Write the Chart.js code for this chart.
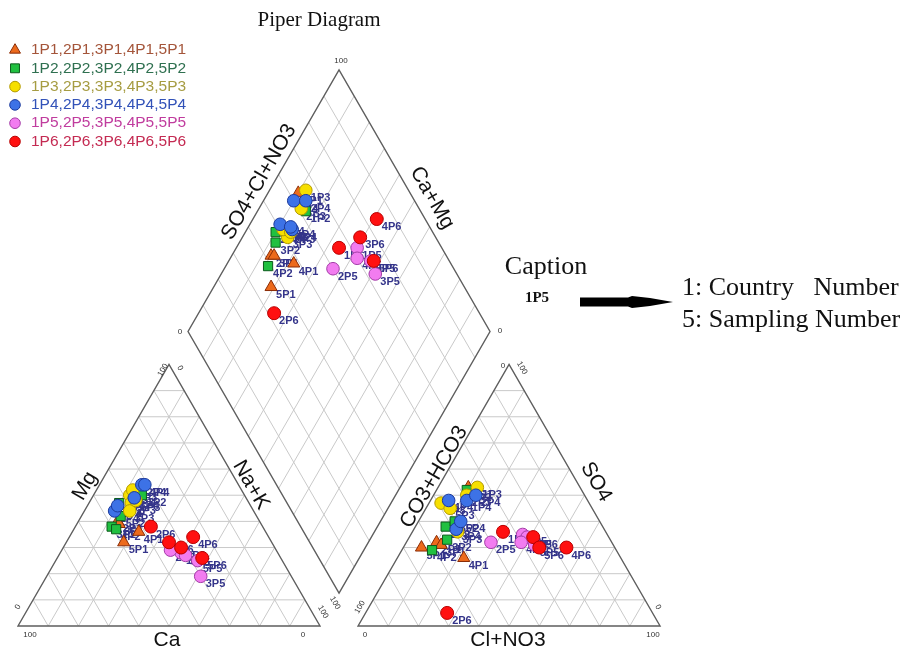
<!DOCTYPE html>
<html>
<head>
<meta charset="utf-8">
<title>Piper Diagram</title>
<script src="https://cdn.jsdelivr.net/npm/chart.js@4.4.1/dist/chart.umd.min.js"></script>
<style>
  html, body { margin: 0; padding: 0; background: #fff; }
  #wrap { width: 914px; height: 653px; }
</style>
</head>
<body>
<div id="wrap"><canvas id="piper" width="914" height="653"></canvas></div>
<script>
// sampling groups P1..P6, each taken in countries 1..5 (label = country + group)
const groups = ['P1', 'P2', 'P3', 'P4', 'P5', 'P6'];
const countries = [1, 2, 3, 4, 5];

// cations, % meq/l  (rows = groups, columns = countries)
const caPct = [
  [44, 47, 47, 42, 49],
  [34, 43, 50, 49, 45],
  [38, 39, 41, 36, 37],
  [46, 32, 44, 31, 37],
  [32, 35, 30, 31, 28],
  [34, 37, 31, 25, 26]
];
const mgPct = [
  [46, 40, 39, 36, 32],
  [50, 47, 38, 37, 42],
  [50, 47, 44, 52, 48],
  [44, 54, 46, 54, 49],
  [28, 29, 19, 27, 25],
  [32, 38, 30, 34, 26]
];
const naPct = [
  [10, 13, 14, 22, 19],
  [16, 10, 12, 14, 13],
  [12, 14, 15, 12, 15],
  [10, 14, 10, 15, 14],
  [40, 36, 51, 42, 47],
  [34, 25, 39, 41, 48]
];

// anions, % meq/l
const hco3Pct = [
  [37, 58, 57, 52, 64],
  [38, 52, 54, 61, 48],
  [34, 39, 49, 49, 47],
  [40, 36, 49, 46, 46],
  [28, 40, 27, 30, 26],
  [34, 68, 25, 16, 25]
];
const so4Pct = [
  [53, 32, 31, 26, 30],
  [52, 38, 33, 29, 40],
  [53, 50, 36, 47, 45],
  [48, 50, 37, 48, 40],
  [35, 32, 34, 32, 31],
  [36, 5, 34, 30, 30]
];
const clPct = [
  [10, 10, 12, 22, 6],
  [10, 10, 13, 10, 12],
  [13, 11, 15, 4, 8],
  [12, 14, 14, 6, 14],
  [37, 28, 39, 38, 43],
  [30, 27, 41, 54, 45]
];

// look of each group
const markerShape = ['triangle', 'rect', 'circle', 'circle', 'circle', 'circle'];
const markerSize = [7, 6.5, 6.3, 6.3, 6.3, 6.5];
const markerFill = ['#ec6a1c', '#20c040', '#f6df00', '#3d72e6', '#f27cf0', '#ff1010'];
const markerEdge = ['#8a2c06', '#0c5a1c', '#b39a00', '#1c3a9c', '#a23ca6', '#b80000'];
const legendColor = ['#a4553a', '#2f7050', '#a69c42', '#3252b8', '#c03c9e', '#c42a52'];

// piper geometry, in "triangle side = 100" units
const GAP = 12.6;
const SIN60 = Math.sqrt(3) / 2;
const PX = 3.02;          // pixels per unit
const ORIGIN = [18, 626]; // pixel of the Ca 100% corner

function cationXY(ca, mg, na) {
  const t = ca + mg + na;
  return { x: 100 * (na + mg / 2) / t, y: 100 * SIN60 * mg / t };
}
function anionXY(hco3, so4, cl) {
  const t = hco3 + so4 + cl;
  return { x: 100 + GAP + 100 * (cl + so4 / 2) / t, y: 100 * SIN60 * so4 / t };
}
function diamondXY(ca, mg, na, hco3, so4, cl) {
  const c = 100 * (ca + mg) / (ca + mg + na);
  const a = 100 * (so4 + cl) / (hco3 + so4 + cl);
  return { x: 100 + GAP / 2 + (a - c) / 2, y: GAP / 2 * Math.sqrt(3) + SIN60 * (a + c) };
}

const datasets = groups.map((g, gi) => {
  const pts = [];
  countries.forEach((c, ci) => {
    const id = c + g;
    const ca = caPct[gi][ci], mg = mgPct[gi][ci], na = naPct[gi][ci];
    const hc = hco3Pct[gi][ci], so = so4Pct[gi][ci], cl = clPct[gi][ci];
    pts.push(Object.assign(cationXY(ca, mg, na), { id }));
    pts.push(Object.assign(anionXY(hc, so, cl), { id }));
    pts.push(Object.assign(diamondXY(ca, mg, na, hc, so, cl), { id }));
  });
  return {
    label: countries.map(c => c + g).join(','),
    data: pts,
    pointStyle: markerShape[gi],
    pointRadius: markerSize[gi],
    backgroundColor: markerFill[gi],
    borderColor: markerEdge[gi],
    borderWidth: 1,
    order: groups.length - gi,
    clip: false
  };
});

function text(ctx, s, x, y, font, color, rot, align) {
  ctx.save();
  ctx.translate(x, y);
  if (rot) ctx.rotate(rot * Math.PI / 180);
  ctx.font = font;
  ctx.fillStyle = color;
  ctx.textAlign = align || 'center';
  ctx.textBaseline = 'middle';
  ctx.fillText(s, 0, 0);
  ctx.restore();
}

const piperFrame = {
  id: 'piperFrame',
  beforeDatasetsDraw(chart) {
    const { ctx, scales: { x, y } } = chart;
    const P = p => [x.getPixelForValue(p[0]), y.getPixelForValue(p[1])];
    const line = (a, b) => { ctx.moveTo(...P(a)); ctx.lineTo(...P(b)); };
    const H = 100 * SIN60;

    // grid
    ctx.save();
    ctx.beginPath();
    [0, 100 + GAP].forEach(ox => {
      for (let i = 1; i < 10; i++) {
        const f = i * 10;
        line([ox + f / 2, f * SIN60], [ox + 100 - f / 2, f * SIN60]);
        line([ox + f, 0], [ox + f + (100 - f) / 2, (100 - f) * SIN60]);
        line([ox + f, 0], [ox + f / 2, f * SIN60]);
      }
    });
    const B = [100 + GAP / 2, GAP / 2 * Math.sqrt(3)];
    const L = [B[0] - 50, B[1] + H], R = [B[0] + 50, B[1] + H], T = [B[0], B[1] + 2 * H];
    for (let i = 1; i < 10; i++) {
      const f = i / 10;
      const s1 = [B[0] + f * (R[0] - B[0]), B[1] + f * (R[1] - B[1])];
      line(s1, [s1[0] + L[0] - B[0], s1[1] + L[1] - B[1]]);
      const s2 = [B[0] + f * (L[0] - B[0]), B[1] + f * (L[1] - B[1])];
      line(s2, [s2[0] + R[0] - B[0], s2[1] + R[1] - B[1]]);
    }
    ctx.strokeStyle = '#c9c9c9';
    ctx.lineWidth = 1;
    ctx.stroke();

    // outlines
    ctx.beginPath();
    [0, 100 + GAP].forEach(ox => {
      ctx.moveTo(...P([ox, 0]));
      ctx.lineTo(...P([ox + 100, 0]));
      ctx.lineTo(...P([ox + 50, H]));
      ctx.closePath();
    });
    ctx.moveTo(...P(B)); ctx.lineTo(...P(R)); ctx.lineTo(...P(T)); ctx.lineTo(...P(L)); ctx.closePath();
    ctx.strokeStyle = '#5e5e5e';
    ctx.lineWidth = 1.4;
    ctx.stroke();
    ctx.restore();

    // axis names
    const af = '21px Arial, "Liberation Sans", sans-serif';
    text(ctx, 'SO4+Cl+NO3', 259, 182, af, '#111', -60);
    text(ctx, 'Ca+Mg', 432, 198, af, '#111', 60);
    text(ctx, 'Mg', 85, 486, af, '#111', -60);
    text(ctx, 'Na+K', 251, 485, af, '#111', 60);
    text(ctx, 'Ca', 167, 640, af, '#111', 0);
    text(ctx, 'CO3+HCO3', 434, 477, af, '#111', -60);
    text(ctx, 'SO4', 596, 482, af, '#111', 60);
    text(ctx, 'Cl+NO3', 508, 640, af, '#111', 0);

    // corner values
    const tf = '8px Arial, sans-serif', tc = '#333';
    [
      ['100', 30, 635, 0], ['0', 18, 607, -60], ['100', 163, 370, -60], ['0', 180, 368, 60],
      ['100', 323, 612, 60], ['0', 303, 635, 0],
      ['0', 365, 635, 0], ['100', 360, 607, -60], ['0', 503, 366, 0], ['100', 522, 368, 60],
      ['0', 658, 607, 60], ['100', 653, 635, 0],
      ['100', 341, 61, 0], ['0', 180, 332, 0], ['0', 500, 331, 0], ['100', 335, 603, 60]
    ].forEach(t => text(ctx, t[0], t[1], t[2], tf, tc, t[3]));

    // sample names, under the markers
    ctx.save();
    ctx.font = 'bold 11px Arial, "Liberation Sans", sans-serif';
    ctx.fillStyle = '#34348a';
    ctx.textBaseline = 'middle';
    chart.data.datasets.forEach((ds, di) => {
      chart.getDatasetMeta(di).data.forEach((el, j) => {
        ctx.fillText(ds.data[j].id, el.x + 5, el.y + 8);
      });
    });
    ctx.restore();
  },
  afterDraw(chart) {
    const { ctx } = chart;
    text(ctx, 'Piper Diagram', 319, 20, '21px "Liberation Serif", "Times New Roman", serif', '#111', 0);

    // legend
    chart.data.datasets.forEach((ds, i) => {
      const yy = 50 + i * 18.3;
      ctx.save();
      ctx.fillStyle = ds.backgroundColor;
      ctx.strokeStyle = ds.borderColor;
      ctx.lineWidth = 1;
      Chart.helpers.drawPoint(ctx, { pointStyle: ds.pointStyle, radius: ds.pointStyle === 'circle' ? 5.3 : 6.3, borderWidth: 1 }, 15, yy);
      ctx.restore();
      text(ctx, ds.label, 31, yy, '15.5px Arial, "Liberation Sans", sans-serif', legendColor[i], 0, 'left');
    });

    // caption
    const sf = '26px "Liberation Serif", "Times New Roman", serif';
    text(ctx, 'Caption', 546, 267, sf, '#111', 0);
    text(ctx, '1P5', 537, 298, 'bold 15px "Liberation Serif", "Times New Roman", serif', '#111', 0);
    ctx.save();
    ctx.fillStyle = '#000';
    ctx.beginPath();
    ctx.moveTo(580, 297.5); ctx.lineTo(628, 297.5); ctx.lineTo(632, 296); ctx.lineTo(650, 298);
    ctx.lineTo(673, 302); ctx.lineTo(650, 306); ctx.lineTo(632, 308); ctx.lineTo(628, 306.5);
    ctx.lineTo(580, 306.5); ctx.closePath();
    ctx.fill();
    ctx.restore();
    text(ctx, '1: Country   Number', 682, 288, sf, '#111', 0, 'left');
    text(ctx, '5: Sampling Number', 682, 320, sf, '#111', 0, 'left');
  }
};

new Chart(document.getElementById('piper'), {
  type: 'scatter',
  data: { datasets },
  options: {
    responsive: false,
    animation: false,
    events: [],
    layout: { padding: 0, autoPadding: false },
    scales: {
      x: { type: 'linear', display: false, min: -ORIGIN[0] / PX, max: (914 - ORIGIN[0]) / PX },
      y: { type: 'linear', display: false, min: -(653 - ORIGIN[1]) / PX, max: ORIGIN[1] / PX }
    },
    plugins: { legend: { display: false }, tooltip: { enabled: false } }
  },
  plugins: [piperFrame]
});
</script>
</body>
</html>
